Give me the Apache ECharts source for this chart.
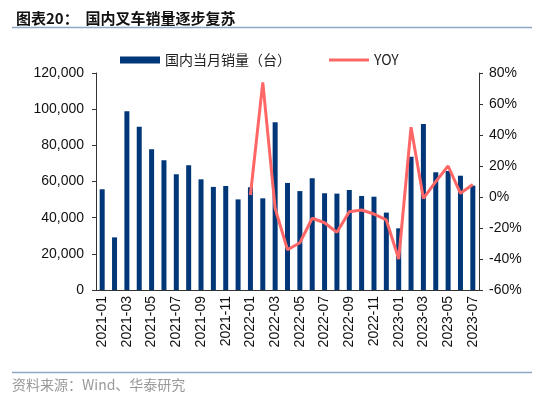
<!DOCTYPE html>
<html>
<head>
<meta charset="utf-8">
<script src="https://cdn.jsdelivr.net/npm/echarts@6/dist/echarts.min.js"></script>
<style>
  html, body { margin: 0; padding: 0; background: #fff; }
  #chart { width: 550px; height: 398px; }
</style>
</head>
<body>
<div id="chart"></div>
<script>
// 月份
var months = [
  "2021-01", "2021-02", "2021-03", "2021-04", "2021-05", "2021-06", "2021-07", "2021-08",
  "2021-09", "2021-10", "2021-11", "2021-12", "2022-01", "2022-02", "2022-03", "2022-04",
  "2022-05", "2022-06", "2022-07", "2022-08", "2022-09", "2022-10", "2022-11", "2022-12",
  "2023-01", "2023-02", "2023-03", "2023-04", "2023-05", "2023-06", "2023-07"
];
// 国内当月销量（台）
var sales = [
  55700, 29100, 98800, 90300, 77800, 71700, 64000, 69000,
  61200, 57000, 57500, 50100, 56800, 50700, 92700, 59200,
  54700, 61800, 53500, 53300, 55300, 52000, 51600, 42800,
  34100, 73700, 91800, 65100, 65800, 63200, 57700
];
// 同比（%），2022-01 之前无数据
var yoy = [
  null, null, null, null, null, null, null, null,
  null, null, null, null, 1.3, 74, -7.3, -34,
  -29.5, -13.7, -16.6, -22.8, -9.5, -8.4, -11, -14.8,
  -40, 45, -0.9, 9.9, 20, 2.4, 8
];

var chart = echarts.init(document.getElementById("chart"));
var axisColor = "#333";
var labelFont = "'Liberation Sans', Arial, sans-serif";

chart.setOption({
  animation: false,
  title: {
    text: "图表20：  国内叉车销量逐步复苏",
    left: 11,
    top: 6,
    textStyle: {
      fontFamily: "'Noto Sans CJK SC', sans-serif",
      fontSize: 15,
      fontWeight: "bold",
      color: "#111"
    }
  },
  graphic: [
    {
      type: "line",
      shape: { x1: 12, y1: 27.5, x2: 532, y2: 27.5 },
      style: { stroke: "#8EA7C6", lineWidth: 1.5 }
    },
    {
      type: "line",
      shape: { x1: 12, y1: 372.5, x2: 532, y2: 372.5 },
      style: { stroke: "#8EA7C6", lineWidth: 1.5 }
    },
    {
      type: "text",
      left: 12,
      top: 378,
      style: {
        text: "资料来源：Wind、华泰研究",
        fill: "#999",
        font: "14px 'Noto Sans CJK SC', sans-serif"
      }
    }
  ],
  legend: {
    left: 120,
    top: 53,
    padding: 0,
    itemWidth: 40,
    itemHeight: 7,
    itemGap: 38,
    textStyle: {
      fontFamily: "'Noto Sans CJK SC', " + labelFont,
      fontSize: 14,
      color: "#222"
    },
    data: [
      { name: "国内当月销量（台）", icon: "rect" },
      { name: "YOY", icon: "path://M0 0H40V3H0Z" }
    ]
  },
  grid: {
    left: 96,
    right: 71,
    top: 73,
    bottom: 108
  },
  xAxis: {
    type: "category",
    data: months,
    boundaryGap: true,
    axisLine: { lineStyle: { color: axisColor } },
    axisTick: { interval: 1, length: 4, lineStyle: { color: axisColor } },
    axisLabel: {
      interval: 1,
      rotate: 90,
      margin: 6,
      fontFamily: labelFont,
      fontSize: 14,
      color: "#111"
    }
  },
  yAxis: [
    {
      type: "value",
      min: 0,
      max: 120000,
      interval: 20000,
      splitLine: { show: false },
      axisLine: { show: true, lineStyle: { color: axisColor } },
      axisTick: { show: true, length: 4, lineStyle: { color: axisColor } },
      axisLabel: {
        margin: 12,
        fontFamily: labelFont,
        fontSize: 14,
        color: "#111",
        formatter: function (v) { return v.toLocaleString("en-US"); }
      }
    },
    {
      type: "value",
      min: -60,
      max: 80,
      interval: 20,
      splitLine: { show: false },
      axisLine: { show: true, lineStyle: { color: axisColor } },
      axisTick: { show: true, length: 4, lineStyle: { color: axisColor } },
      axisLabel: {
        margin: 10,
        fontFamily: labelFont,
        fontSize: 14,
        color: "#111",
        formatter: "{value}%"
      }
    }
  ],
  series: [
    {
      name: "国内当月销量（台）",
      type: "bar",
      data: sales,
      barWidth: 5,
      itemStyle: { color: "#003778" }
    },
    {
      name: "YOY",
      type: "line",
      yAxisIndex: 1,
      data: yoy,
      symbol: "none",
      connectNulls: false,
      lineStyle: { color: "#FF6666", width: 3 },
      itemStyle: { color: "#FF6666" }
    }
  ]
});
</script>
</body>
</html>
